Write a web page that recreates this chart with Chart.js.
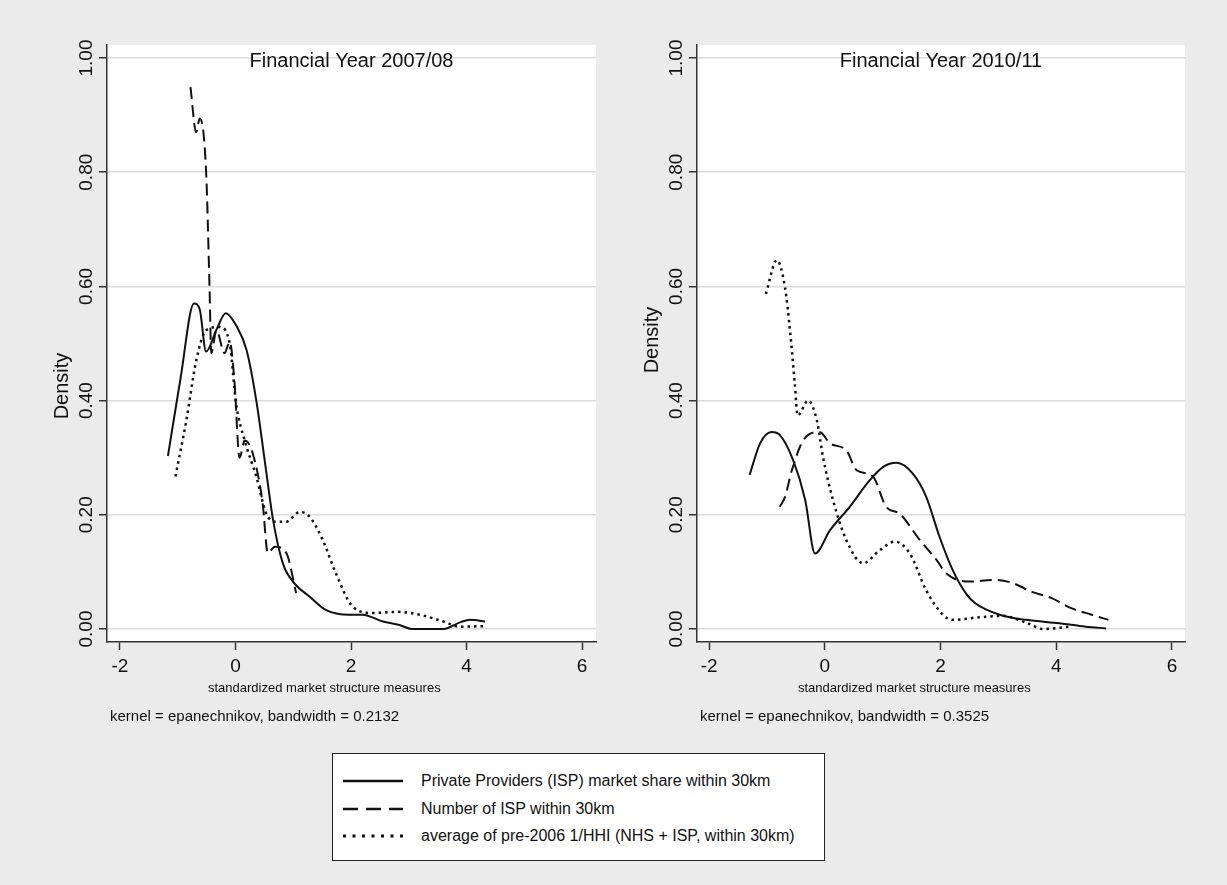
<!DOCTYPE html>
<html>
<head>
<meta charset="utf-8">
<script src="https://cdn.jsdelivr.net/npm/chart.js@4.4.1/dist/chart.umd.min.js"></script>
<style>
  html, body { margin:0; padding:0; }
  body { width:1227px; height:885px; background:#ebebeb; position:relative; overflow:hidden;
         font-family:'Liberation Sans', Arial, Helvetica, sans-serif; }
  canvas { position:absolute; top:0; }
  #c1 { left:0; }
  #c2 { left:613px; }
  #legend { position:absolute; left:332px; top:753px; width:491px; height:106px;
            border:1.5px solid #222; background:#fff; box-sizing:content-box; }
  .row { position:absolute; left:0; height:20px; width:100%; }
  .row svg { position:absolute; left:9px; top:0; }
  .row span { position:absolute; left:88px; top:0; font-size:16px; line-height:20px; color:#111; white-space:nowrap; }
</style>
</head>
<body>
<canvas id="c1" width="613" height="740"></canvas>
<canvas id="c2" width="614" height="740"></canvas>
<div id="legend"></div>
<script>
// ---------- data ----------
const xTickValues = [-2, 0, 2, 4, 6];
const xTickLabels = ['-2', '0', '2', '4', '6'];
const yTickValues = [0, 0.2, 0.4, 0.6, 0.8, 1.0];
const yTickLabels = ['0.00', '0.20', '0.40', '0.60', '0.80', '1.00'];
const seriesNames = [
  'Private Providers (ISP) market share within 30km',
  'Number of ISP within 30km',
  'average of pre-2006 1/HHI (NHS + ISP, within 30km)'
];
const panelTitles = ['Financial Year 2007/08', 'Financial Year 2010/11'];
const panelNotes = ['kernel = epanechnikov, bandwidth = 0.2132', 'kernel = epanechnikov, bandwidth = 0.3525'];
const xAxisTitle = 'standardized market structure measures';
const yAxisTitle = 'Density';

// FY 2007/08
const share0708X = [-1.17, -0.95, -0.72, -0.62, -0.51, -0.33, -0.17, 0.01, 0.19, 0.36, 0.53, 0.65, 0.82, 1.02, 1.28, 1.57, 1.97, 2.2, 2.55, 2.84, 3.05, 3.6, 3.9, 4.06, 4.32];
const share0708Y = [0.303, 0.44, 0.570, 0.560, 0.486, 0.524, 0.553, 0.532, 0.489, 0.40, 0.277, 0.191, 0.115, 0.080, 0.057, 0.033, 0.025, 0.025, 0.013, 0.007, 0.0, 0.0, 0.012, 0.016, 0.013];
const count0708X = [-0.78, -0.68, -0.62, -0.51, -0.45, -0.42, -0.33, -0.19, -0.1, -0.02, 0.07, 0.16, 0.3, 0.47, 0.56, 0.68, 0.88, 1.05];
const count0708Y = [0.949, 0.87, 0.894, 0.803, 0.60, 0.483, 0.523, 0.483, 0.503, 0.436, 0.30, 0.33, 0.307, 0.22, 0.133, 0.144, 0.133, 0.063];
const hhi0708X = [-1.04, -0.85, -0.68, -0.51, -0.28, -0.1, 0.01, 0.16, 0.36, 0.53, 0.68, 0.88, 1.11, 1.28, 1.51, 1.74, 2.03, 2.38, 2.8, 3.19, 3.6, 3.88, 4.32];
const hhi0708Y = [0.267, 0.366, 0.47, 0.523, 0.529, 0.50, 0.395, 0.33, 0.267, 0.203, 0.188, 0.188, 0.205, 0.197, 0.156, 0.097, 0.039, 0.028, 0.03, 0.025, 0.013, 0.004, 0.005];

// FY 2010/11
const share1011X = [-1.3, -1.12, -0.92, -0.78, -0.55, -0.34, -0.17, 0.09, 0.43, 0.78, 1.01, 1.24, 1.52, 1.75, 1.98, 2.21, 2.44, 2.6, 3.02, 3.48, 4.05, 4.51, 4.86];
const share1011Y = [0.27, 0.325, 0.345, 0.34, 0.296, 0.226, 0.132, 0.173, 0.214, 0.261, 0.284, 0.291, 0.272, 0.232, 0.162, 0.103, 0.062, 0.045, 0.025, 0.016, 0.01, 0.004, 0.001];
const count1011X = [-0.78, -0.69, -0.57, -0.37, -0.09, 0.09, 0.37, 0.55, 0.83, 1.06, 1.29, 1.64, 1.93, 2.1, 2.5, 2.9, 3.23, 3.58, 3.92, 4.27, 4.61, 4.9];
const count1011Y = [0.214, 0.231, 0.278, 0.331, 0.345, 0.325, 0.313, 0.278, 0.267, 0.214, 0.202, 0.156, 0.121, 0.097, 0.083, 0.086, 0.081, 0.065, 0.054, 0.036, 0.025, 0.016];
const hhi1011X = [-1.02, -0.83, -0.69, -0.6, -0.52, -0.47, -0.29, -0.14, -0.03, 0.14, 0.37, 0.66, 0.95, 1.21, 1.47, 1.75, 2.04, 2.21, 2.62, 3.07, 3.48, 3.77, 4.22];
const hhi1011Y = [0.587, 0.646, 0.599, 0.52, 0.43, 0.374, 0.40, 0.366, 0.30, 0.226, 0.156, 0.115, 0.138, 0.153, 0.132, 0.068, 0.025, 0.016, 0.02, 0.023, 0.011, 0.0, 0.004];

// ---------- styling ----------
const FONT = "'Liberation Sans', Arial, Helvetica, sans-serif";
const INK = '#111';
const lineStyles = [
  { dash: [], width: 2 },
  { dash: [12, 6], width: 2 },
  { dash: [2.5, 4], width: 2.5 }
];

function zipXY(xs, ys) { return xs.map((x, i) => ({ x: x, y: ys[i] })); }

const stataDecor = {
  id: 'stataDecor',
  beforeDraw(chart) {
    const { ctx, chartArea: a } = chart;
    ctx.save();
    ctx.fillStyle = '#ffffff';
    ctx.fillRect(a.left, a.top, a.right - a.left, a.bottom - a.top);
    ctx.restore();
  },
  afterDraw(chart, args, o) {
    const { ctx, chartArea: a, scales } = chart;
    ctx.save();
    ctx.fillStyle = INK;
    // panel title inside plot region
    ctx.font = '20px ' + FONT;
    ctx.textAlign = 'center';
    ctx.textBaseline = 'alphabetic';
    ctx.fillText(o.title, (a.left + a.right) / 2, 67);
    // rotated y tick labels
    ctx.font = '19px ' + FONT;
    scales.y.ticks.forEach((t) => {
      const y = scales.y.getPixelForValue(t.value);
      ctx.save();
      ctx.translate(a.left - 15, y);
      ctx.rotate(-Math.PI / 2);
      ctx.fillText(yTickLabels[yTickValues.indexOf(t.value)], 0, 0);
      ctx.restore();
    });
    // y axis title
    ctx.font = '20px ' + FONT;
    ctx.save();
    ctx.translate(a.left - 39, o.yTitleCenter);
    ctx.rotate(-Math.PI / 2);
    ctx.fillText(yAxisTitle, 0, 0);
    ctx.restore();
    // x axis title + note
    ctx.textAlign = 'left';
    ctx.font = '13px ' + FONT;
    ctx.fillText(xAxisTitle, a.left + 101, 692);
    ctx.font = '15px ' + FONT;
    ctx.fillText(o.note, a.left + 3, 721);
    ctx.restore();
  }
};

function makePanel(canvasId, seriesXY, panel) {
  const datasets = seriesXY.map((pts, i) => ({
    label: seriesNames[i],
    data: pts,
    borderColor: INK,
    borderWidth: lineStyles[i].width,
    borderDash: lineStyles[i].dash,
    pointRadius: 0,
    fill: false,
    cubicInterpolationMode: 'monotone'
  }));
  return new Chart(document.getElementById(canvasId), {
    type: 'line',
    data: { datasets },
    plugins: [stataDecor],
    options: {
      responsive: false,
      animation: false,
      devicePixelRatio: 1,
      layout: { padding: { left: 0, right: panel.padRight, top: 45, bottom: 0 } },
      plugins: {
        legend: { display: false },
        tooltip: { enabled: false },
        stataDecor: { title: panel.title, note: panel.note, yTitleCenter: panel.yTitleCenter }
      },
      scales: {
        x: {
          type: 'linear',
          min: panel.xMin, max: panel.xMax,
          afterBuildTicks: s => { s.ticks = xTickValues.map(v => ({ value: v })); },
          afterFit: s => { s.height = 98; },
          ticks: {
            color: INK, padding: 5,
            font: { family: FONT, size: 19 },
            maxRotation: 0, minRotation: 0,
            callback: (v) => xTickLabels[xTickValues.indexOf(v)]
          },
          grid: { drawOnChartArea: false, drawTicks: true, tickLength: 8, tickColor: '#333', tickWidth: 1.5 },
          border: { display: true, color: '#333', width: 1.5 }
        },
        y: {
          type: 'linear',
          min: -0.0228, max: 1.0228,
          afterBuildTicks: s => { s.ticks = yTickValues.map(v => ({ value: v })); },
          afterFit: s => { s.width = panel.yWidth; },
          ticks: { display: false },
          grid: { color: '#dcdcdc', lineWidth: 1.5, drawTicks: true, tickLength: 8, tickColor: '#333', tickWidth: 1.5 },
          border: { display: true, color: '#333', width: 1.5 }
        }
      }
    }
  });
}

makePanel('c1', [zipXY(share0708X, share0708Y), zipXY(count0708X, count0708Y), zipXY(hhi0708X, hhi0708Y)],
  { title: panelTitles[0], note: panelNotes[0], yTitleCenter: 386, padRight: 17, yWidth: 107, xMin: -2.225, xMax: 6.242 });
makePanel('c2', [zipXY(share1011X, share1011Y), zipXY(count1011X, count1011Y), zipXY(hhi1011X, hhi1011Y)],
  { title: panelTitles[1], note: panelNotes[1], yTitleCenter: 340, padRight: 42, yWidth: 84, xMin: -2.21, xMax: 6.225 });

// ---------- legend ----------
const legendEl = document.getElementById('legend');
const legendDash = ['', '15 8', '3 6.5'];
const legendWidth = [2.5, 2.5, 3];
const rowTops = [17, 45, 72];
seriesNames.forEach((name, i) => {
  const row = document.createElement('div');
  row.className = 'row';
  row.style.top = rowTops[i] + 'px';
  row.innerHTML = '<svg width="62" height="20"><line x1="1" y1="10" x2="61" y2="10" stroke="#111" stroke-width="' +
    legendWidth[i] + '"' + (legendDash[i] ? ' stroke-dasharray="' + legendDash[i] + '"' : '') + '/></svg><span></span>';
  row.querySelector('span').textContent = name;
  legendEl.appendChild(row);
});
</script>
</body>
</html>
